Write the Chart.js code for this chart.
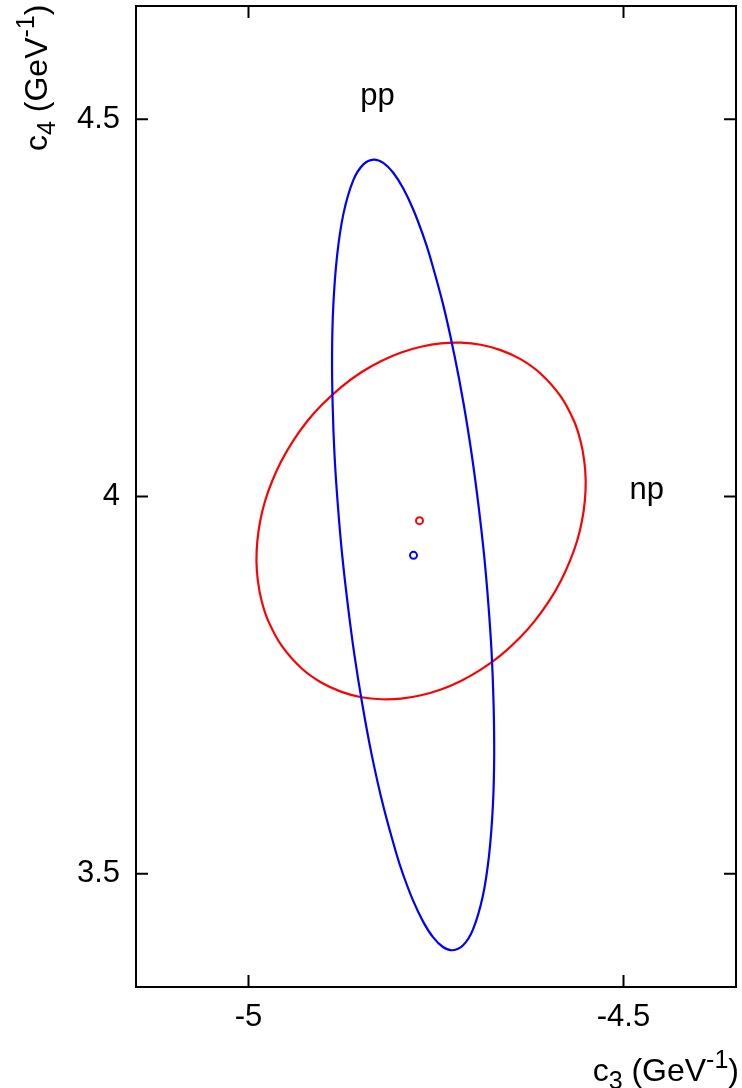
<!DOCTYPE html>
<html>
<head>
<meta charset="utf-8">
<script src="https://cdn.jsdelivr.net/npm/chart.js@4/dist/chart.umd.min.js"></script>
<style>
  html, body { margin: 0; padding: 0; background: #fff; }
  #wrap { width: 742px; height: 1088px; }
</style>
</head>
<body>
<div id="wrap"><canvas id="chart" width="742" height="1088"></canvas></div>
<script>
// tick values
const xTicks = [-5, -4.5];
const yTicks = [3.5, 4, 4.5];

const ppC3 = [-4.8329, -4.8203, -4.8070, -4.7938, -4.7805, -4.7672, -4.7586, -4.7403, -4.7255, -4.7129,
              -4.7023, -4.6934, -4.6859, -4.6801, -4.6757, -4.6732, -4.6724, -4.6741, -4.6792, -4.6877,
              -4.7009, -4.7142, -4.7281, -4.7407, -4.7540, -4.7672, -4.7805, -4.7938, -4.8024, -4.8207,
              -4.8357, -4.8481, -4.8588, -4.8676, -4.8751, -4.8809, -4.8853, -4.8878, -4.8886, -4.8869,
              -4.8818, -4.8733, -4.8601, -4.8468];
const ppC4 = [4.4464, 4.4420, 4.4290, 4.4085, 4.3807, 4.3461, 4.3199, 4.2536, 4.1874, 4.1212,
              4.0550, 3.9887, 3.9225, 3.8563, 3.7901, 3.7238, 3.6576, 3.5914, 3.5252, 3.4698,
              3.4256, 3.4049, 3.3987, 3.4030, 3.4160, 3.4366, 3.4644, 3.4989, 3.5252, 3.5914,
              3.6576, 3.7238, 3.7901, 3.8563, 3.9225, 3.9887, 4.0550, 4.1212, 4.1874, 4.2536,
              4.3199, 4.3752, 4.4195, 4.4401];

// np contour
const npC3 = [-4.7699, -4.7434, -4.7168, -4.6903, -4.6638, -4.6373, -4.6107, -4.5842, -4.5660, -4.5573,
              -4.5523, -4.5504, -4.5516, -4.5554, -4.5619, -4.5714, -4.5836, -4.5991, -4.6183, -4.6373,
              -4.6638, -4.6903, -4.7168, -4.7434, -4.7699, -4.7964, -4.8229, -4.8495, -4.8760, -4.9025,
              -4.9290, -4.9556, -4.9737, -4.9825, -4.9875, -4.9894, -4.9882, -4.9844, -4.9779, -4.9684,
              -4.9562, -4.9407, -4.9215, -4.9025, -4.8760, -4.8495, -4.8229, -4.7964];
const npC4 = [4.1985, 4.2029, 4.2038, 4.2011, 4.1940, 4.1820, 4.1630, 4.1332, 4.1000, 4.0735,
              4.0470, 4.0205, 3.9940, 3.9675, 3.9411, 3.9146, 3.8881, 3.8616, 3.8351, 3.8138,
              3.7895, 3.7705, 3.7555, 3.7442, 3.7366, 3.7322, 3.7313, 3.7340, 3.7411, 3.7531,
              3.7720, 3.8019, 3.8351, 3.8616, 3.8881, 3.9146, 3.9411, 3.9675, 3.9940, 4.0205,
              4.0470, 4.0735, 4.1000, 4.1213, 4.1454, 4.1646, 4.1796, 4.1909];

// best-fit points
const ppBest = [-4.780, 3.922];
const npBest = [-4.772, 3.968];

// text labels placed in data coords
const labelText = ['pp', 'np'];
const labelC3 = [-4.828, -4.469];
const labelC4 = [4.519, 3.997];

const FONT = '"Liberation Sans", Arial, Helvetica, sans-serif';

// closed loop: prepend last point and append first two, hide the extra segments
const closedLoop = (xs, ys) => {
  const pts = xs.map((x, i) => ({ x, y: ys[i] }));
  const n = pts.length;
  return [pts[n - 1], ...pts, pts[0], pts[1]];
};

const loopDataset = (xs, ys, color) => {
  const data = closedLoop(xs, ys);
  const last = data.length - 1;
  return {
    data,
    showLine: true,
    borderColor: color,
    borderWidth: 2.2,
    pointRadius: 0,
    tension: 0.4,
    segment: {
      borderColor: ctx => (ctx.p0DataIndex === 0 || ctx.p1DataIndex === last) ? 'rgba(0,0,0,0)' : color,
    },
  };
};

const frameAndText = {
  id: 'frameAndText',
  afterDraw(chart) {
    const { ctx, chartArea: a, scales } = chart;
    const xs = scales.x, ys = scales.y;
    ctx.save();
    ctx.strokeStyle = '#000';
    ctx.lineWidth = 2;
    ctx.strokeRect(a.left, a.top, a.right - a.left, a.bottom - a.top);

    // inward ticks on all four sides
    const tl = 12;
    ctx.beginPath();
    xTicks.forEach(v => {
      const px = xs.getPixelForValue(v);
      ctx.moveTo(px, a.bottom); ctx.lineTo(px, a.bottom - tl);
      ctx.moveTo(px, a.top); ctx.lineTo(px, a.top + tl);
    });
    yTicks.forEach(v => {
      const py = ys.getPixelForValue(v);
      ctx.moveTo(a.left, py); ctx.lineTo(a.left + tl, py);
      ctx.moveTo(a.right, py); ctx.lineTo(a.right - tl, py);
    });
    ctx.stroke();

    ctx.fillStyle = '#000';
    ctx.textBaseline = 'alphabetic';

    // pp / np labels
    ctx.font = '31px ' + FONT;
    ctx.textAlign = 'center';
    labelText.forEach((t, i) => {
      ctx.fillText(t, xs.getPixelForValue(labelC3[i]), ys.getPixelForValue(labelC4[i]));
    });

    // axis title with sub/superscripts
    const titleParts = sub => [
      { t: 'c', size: 32, dy: 0 },
      { t: sub, size: 25, dy: 8 },
      { t: ' (GeV', size: 32, dy: 0 },
      { t: '-1', size: 25, dy: -13 },
      { t: ')', size: 32, dy: 0 },
    ];
    const drawTitle = (sub, x0, base) => {
      ctx.textAlign = 'left';
      let x = x0;
      titleParts(sub).forEach(p => {
        ctx.font = p.size + 'px ' + FONT;
        ctx.fillText(p.t, x, base + p.dy);
        x += ctx.measureText(p.t).width;
      });
    };
    const measureTitle = sub => titleParts(sub).reduce((w, p) => {
      ctx.font = p.size + 'px ' + FONT;
      return w + ctx.measureText(p.t).width;
    }, 0);

    // x title: right aligned at the bottom-right
    drawTitle('3', 739 - measureTitle('3'), 1081);

    // y title: rotated, starting near the top-left
    ctx.save();
    ctx.translate(47, 151);
    ctx.rotate(-Math.PI / 2);
    drawTitle('4', 0, 0);
    ctx.restore();

    ctx.restore();
  },
};

new Chart(document.getElementById('chart'), {
  type: 'scatter',
  data: {
    datasets: [
      loopDataset(ppC3, ppC4, '#0000ff'),
      loopDataset(npC3, npC4, '#ff0000'),
      {
        data: [{ x: ppBest[0], y: ppBest[1] }],
        pointStyle: 'circle',
        pointRadius: 3.5,
        pointBorderWidth: 2,
        borderColor: '#0000ff',
        backgroundColor: 'rgba(0,0,0,0)',
      },
      {
        data: [{ x: npBest[0], y: npBest[1] }],
        pointStyle: 'circle',
        pointRadius: 3.5,
        pointBorderWidth: 2,
        borderColor: '#ff0000',
        backgroundColor: 'rgba(0,0,0,0)',
      },
    ],
  },
  options: {
    responsive: false,
    animation: false,
    layout: { padding: { left: 0, right: 2, top: 4, bottom: 0 } },
    plugins: {
      legend: { display: false },
      tooltip: { enabled: false },
    },
    scales: {
      x: {
        type: 'linear',
        min: -5.15,
        max: -4.35,
        afterBuildTicks: s => { s.ticks = xTicks.map(v => ({ value: v })); },
        afterFit: s => { s.height = 101; s.paddingLeft = 0; s.paddingRight = 0; },
        grid: { display: false, drawTicks: false },
        border: { display: false },
        ticks: {
          autoSkip: false,
          maxRotation: 0,
          minRotation: 0,
          padding: 12,
          color: '#000',
          font: { family: FONT, size: 31 },
          callback: v => String(v),
        },
      },
      y: {
        type: 'linear',
        min: 3.35,
        max: 4.65,
        afterBuildTicks: s => { s.ticks = yTicks.map(v => ({ value: v })); },
        afterFit: s => { s.width = 136; s.paddingTop = 0; s.paddingBottom = 0; },
        grid: { display: false, drawTicks: false },
        border: { display: false },
        ticks: {
          autoSkip: false,
          padding: 16,
          color: '#000',
          font: { family: FONT, size: 31 },
          callback: v => String(v),
        },
      },
    },
  },
  plugins: [frameAndText],
});
</script>
</body>
</html>
